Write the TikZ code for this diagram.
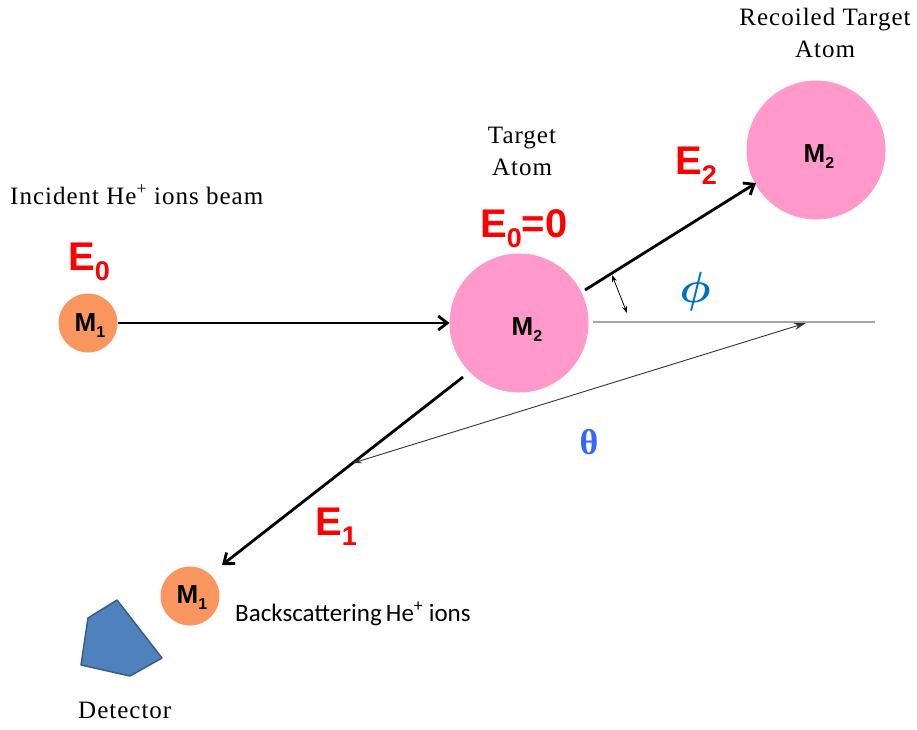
\documentclass[tikz,border=0pt]{standalone}
\usepackage{fontspec}
\setmainfont{Liberation Serif}
\newfontfamily\arialf{Liberation Sans}
\newfontfamily\calf{Carlito}
\usetikzlibrary{arrows.meta}
\usepackage{amsmath}
\definecolor{ionorange}{RGB}{249,150,96}
\definecolor{atompink}{RGB}{255,153,204}
\definecolor{detblue}{RGB}{79,129,189}
\definecolor{detedge}{RGB}{56,93,138}
\definecolor{phiblue}{RGB}{0,112,192}
\definecolor{thetablue}{RGB}{51,102,255}
\newcommand\Elab[1]{{\arialf\bfseries\fontsize{40}{40}\selectfont E\raisebox{-10pt}{\fontsize{27}{27}\selectfont #1}}}
\newcommand\Mlab[1]{{\arialf\bfseries\fontsize{26}{26}\selectfont M\raisebox{-6pt}{\fontsize{16}{16}\selectfont #1}}}
\newcommand\philab{\scalebox{1.75}{\fontsize{24}{24}\selectfont$\boldsymbol{\phi}$}}
\begin{document}
\begin{tikzpicture}[x=1pt,y=-1pt,
  ion/.style={circle,fill=ionorange,minimum size=59pt,inner sep=0pt,outer sep=0pt},
  atom/.style={circle,fill=atompink,minimum size=139pt,inner sep=0pt,outer sep=0pt},
  serif/.style={font=\fontsize{25}{32}\selectfont\addfontfeature{LetterSpace=4},inner sep=0pt,align=center},
  beam/.style={line width=2.8pt,-{Straight Barb[length=9pt,width=14pt,line width=2.8pt]}},
  thinarrow/.style={line width=0.9pt,draw=black!80,{Stealth[length=9pt,width=6pt]}-{Stealth[length=12pt,width=7pt]}},
  lab/.style={inner sep=0pt,anchor=base west}]
\useasboundingbox (0,0) rectangle (917,729);
% circles
\node[ion] (m1a) at (88,323) {};
\node[atom] (target) at (519,323) {};
\node[atom] (recoil) at (816,150) {};
\node[ion] (m1b) at (190,596) {};
\node (lm1a) at (90,326) {\Mlab{1}};
\node (lm2a) at (527,330) {\Mlab{2}};
\node (lm2b) at (819,157) {\Mlab{2}};
\node (lm1b) at (192,598) {\Mlab{1}};
% coordinates
\coordinate (hend) at (593,322);
\coordinate (hfar) at (875,322);
\coordinate (e2s) at (585,290);
\coordinate (e2e) at (756,183);
\coordinate (e1s) at (463,377);
\coordinate (e1e) at (222,565);
\coordinate (ta) at (353,463);
\coordinate (tb) at (806,323);
\coordinate (pa) at (612,275);
\coordinate (pb) at (627,313);
% lines
\draw[gray!70,line width=1.6pt] (hend) -- (hfar);
\draw[beam] (m1a) -- (target);
\draw[beam] (e2s) -- (e2e);
\draw[beam] (e1s) -- (e1e);
\draw[thinarrow] (ta) -- (tb);
\draw[line width=0.8pt,{Stealth[length=7pt,width=5pt]}-{Stealth[length=7pt,width=5pt]}] (pa) -- (pb);
% detector
\draw[fill=detblue,draw=detedge,line width=1.5pt,line join=round]
  (117,600) -- (88,618) -- (81,665) -- (130,676) -- (162,658) -- cycle;
% texts
\node[serif,lab] (inc) at (10,204) {Incident He\textsuperscript{+} ions beam};
\node[lab,text=red] (e0) at (68,270) {\Elab{0}};
\node[serif,anchor=base] (tgt) at (522,175) {Target\\Atom};
\node[lab,text=red] (e00) at (480,237) {\Elab{0}{\arialf\bfseries\fontsize{40}{40}\selectfont=0}};
\node[serif,anchor=base] (rec) at (825,57) {Recoiled Target\\Atom};
\node[lab,text=red] (e2) at (675,174) {\Elab{2}};
\node[text=phiblue,inner sep=0pt] (philabel) at (695,292) {\philab};
\node[text=thetablue,inner sep=0pt] (thetalabel) at (589,442) {\fontsize{36}{36}\selectfont\bfseries θ};
\node[lab,text=red] (e1) at (315,535) {\Elab{1}};
\node[lab] (back) at (235,621) {\calf\fontsize{25}{25}\selectfont Backscattering\,He\textsuperscript{+} ions};
\node[serif,lab] (det) at (78,718) {Detector};
\end{tikzpicture}
\end{document}
